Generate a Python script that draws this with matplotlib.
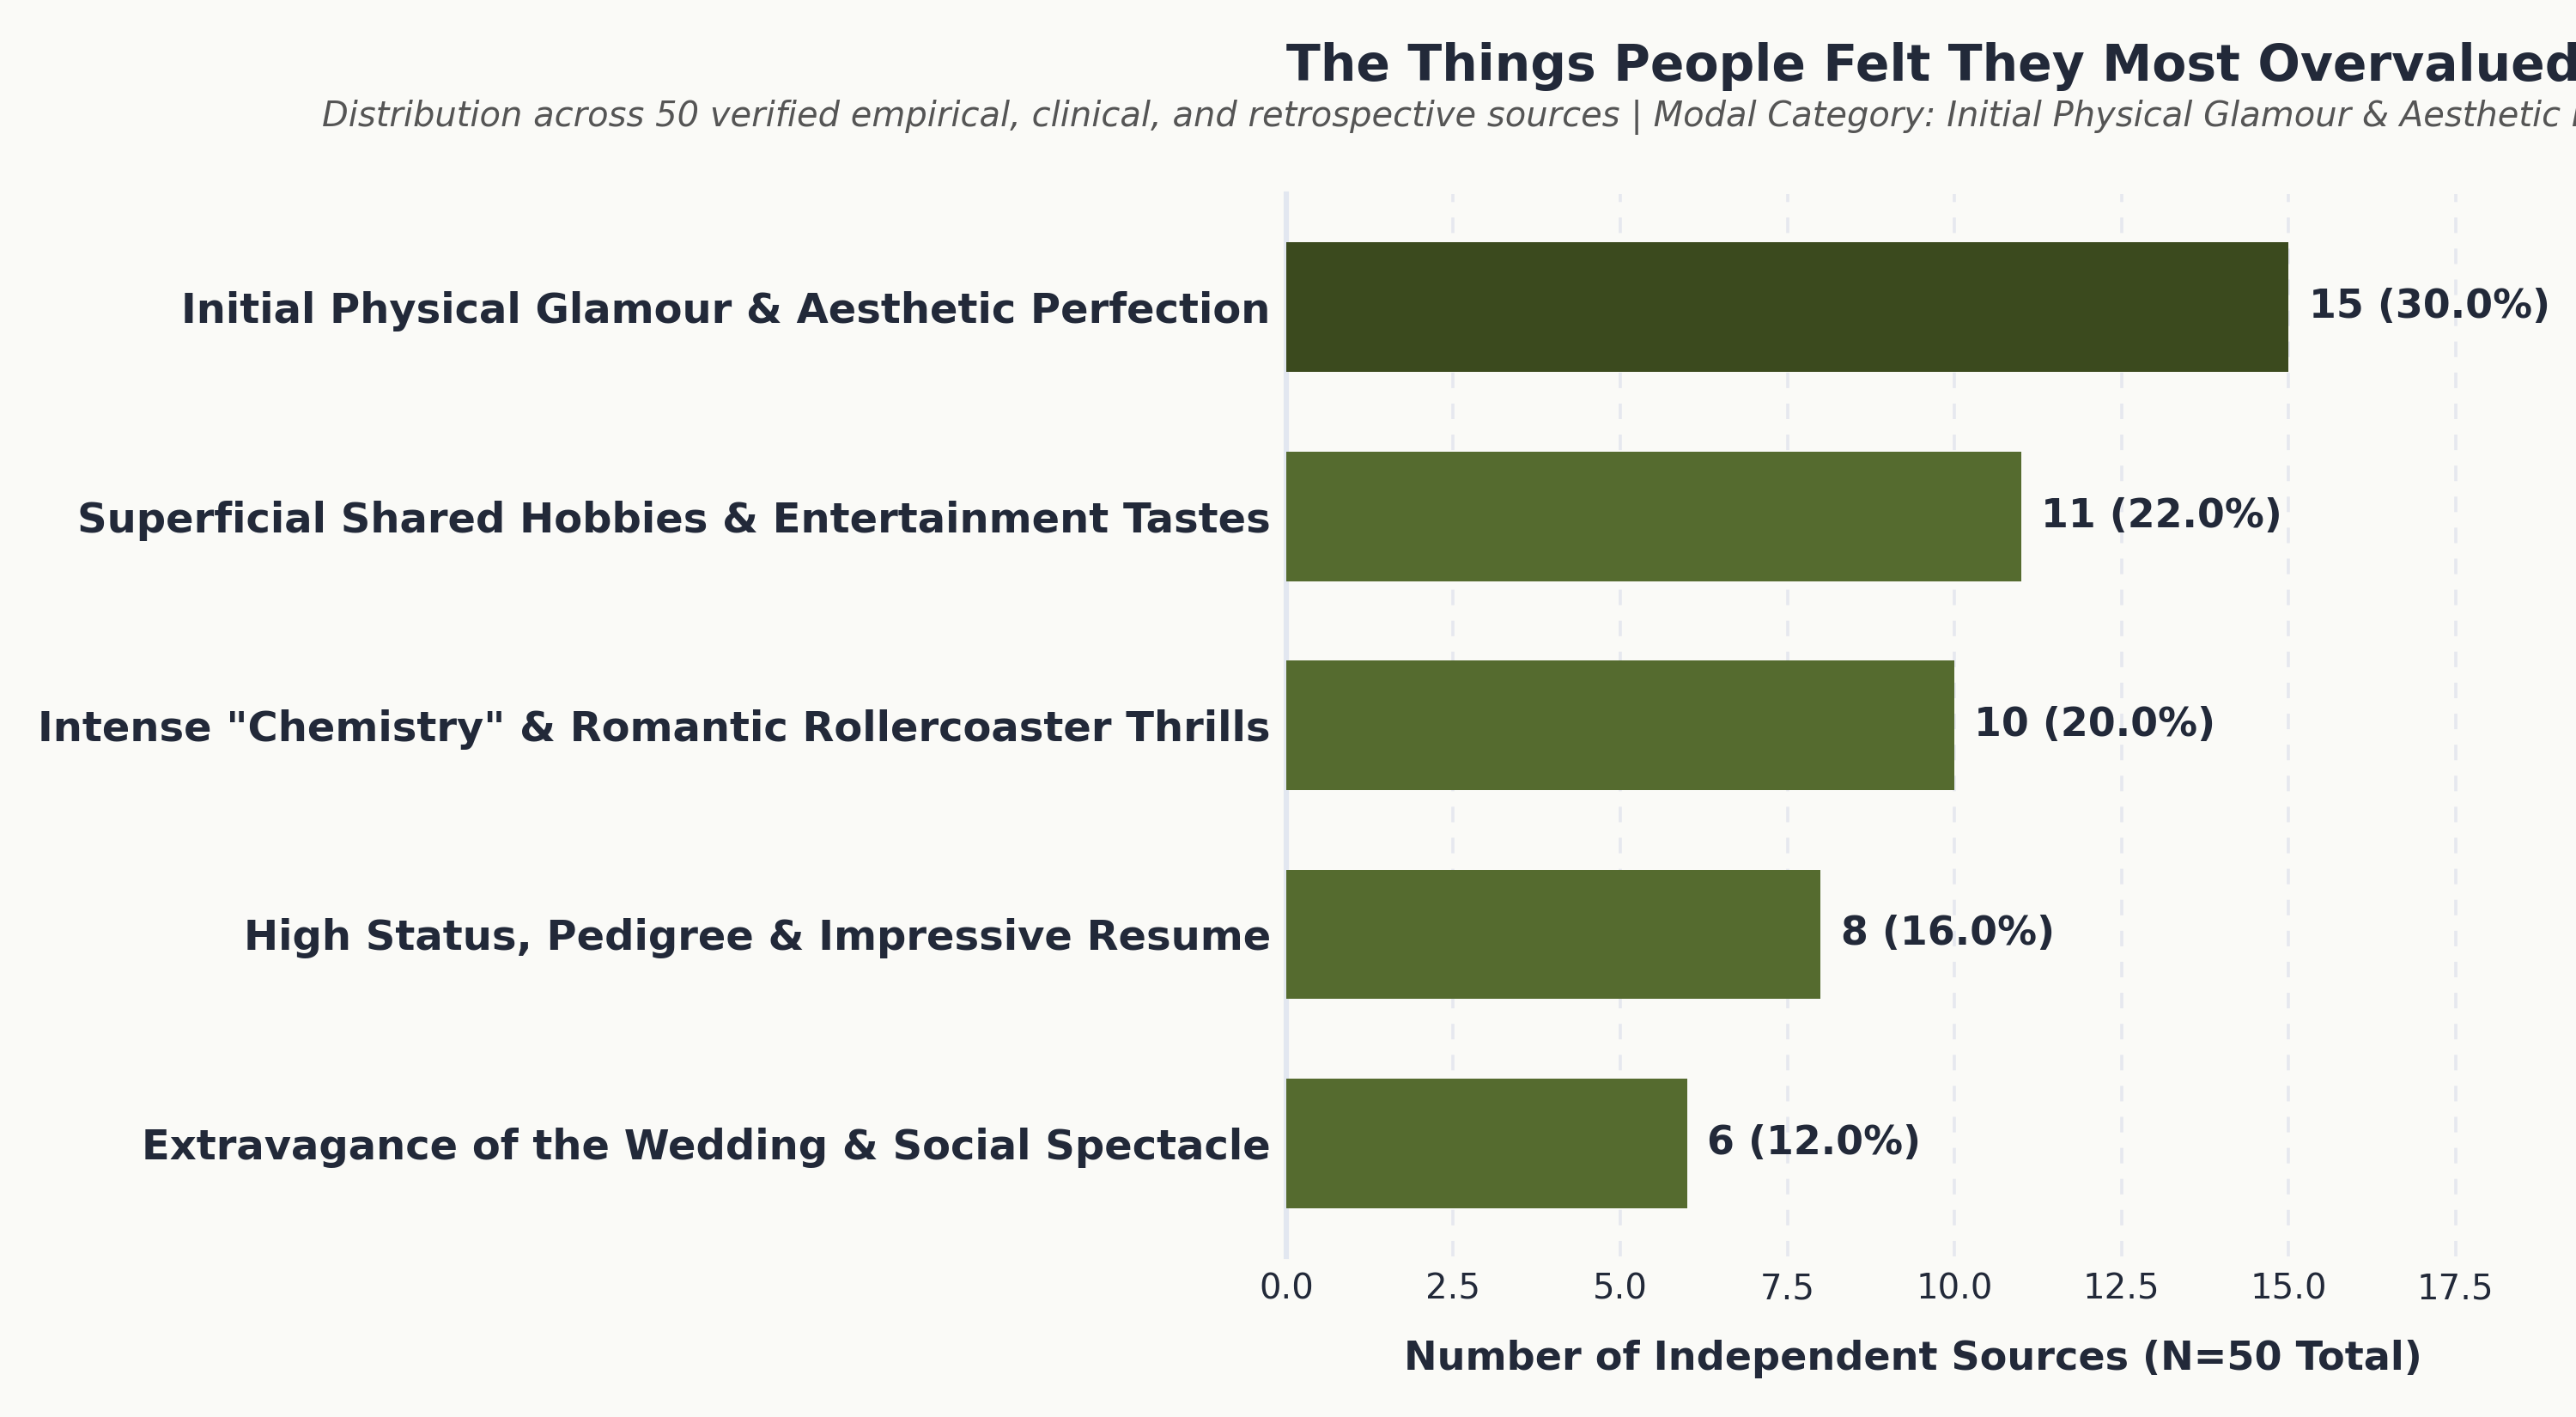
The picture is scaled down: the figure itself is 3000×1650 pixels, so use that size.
import matplotlib
matplotlib.use("Agg")
import matplotlib.pyplot as plt

# data (top to bottom)
categories = [
    "Initial Physical Glamour & Aesthetic Perfection",
    "Superficial Shared Hobbies & Entertainment Tastes",
    'Intense "Chemistry" & Romantic Rollercoaster Thrills',
    "High Status, Pedigree & Impressive Resume",
    "Extravagance of the Wedding & Social Spectacle",
]
counts = [15, 11, 10, 8, 6]
total = 50

bg = "#FAFAF7"
text_col = "#222939"
bar_col = "#556B2F"
top_col = "#3B4A1E"

plt.rcParams['font.family'] = ['DejaVu Sans']

fig = plt.figure(figsize=(15, 8.25), dpi=200, facecolor=bg)
ax = fig.add_axes([0.4993, 0.1133, 0.4864, 0.7497], facecolor=bg)

ypos = list(range(len(categories)))
colors = [top_col if c == max(counts) else bar_col for c in counts]
ax.barh(ypos, counts, height=0.62, color=colors, zorder=3)
ax.invert_yaxis()

for y, c in zip(ypos, counts):
    ax.text(c + 0.3, y, f"{c} ({c / total * 100:.1f}%)", va="center", ha="left",
            fontsize=16.5, fontweight="bold", color=text_col, zorder=4)

ax.set_xlim(0, 18.75)
ax.set_yticks(ypos)
ax.set_yticklabels(categories, fontsize=17.3, fontweight="bold", color=text_col)
ax.tick_params(axis="y", length=0, pad=6.5)
ax.tick_params(axis="x", length=0, pad=6.5, labelsize=14.5, labelcolor=text_col)

ax.grid(axis="x", linestyle=(0, (5, 5)), color="#E6E8EF", linewidth=1.3, zorder=0)
ax.set_axisbelow(True)
for s in ["top", "right", "bottom"]:
    ax.spines[s].set_visible(False)
ax.spines["left"].set_color("#E2E7F0")
ax.spines["left"].set_linewidth(2.2)

ax.set_xlabel("Number of Independent Sources (N=50 Total)", fontsize=16.6,
              fontweight="bold", color=text_col, labelpad=14)

fig.text(0.4993, 0.953, "The Things People Felt They Most Overvalued",
         ha="left", va="center", fontsize=21.0, fontweight="bold", color=text_col)
fig.text(0.125, 0.917,
         "Distribution across 50 verified empirical, clinical, and retrospective sources | "
         "Modal Category: Initial Physical Glamour & Aesthetic Perfection",
         ha="left", va="center", fontsize=14.4, style="italic", color="#555555")

fig.savefig("out.png", dpi=200, facecolor=bg)
